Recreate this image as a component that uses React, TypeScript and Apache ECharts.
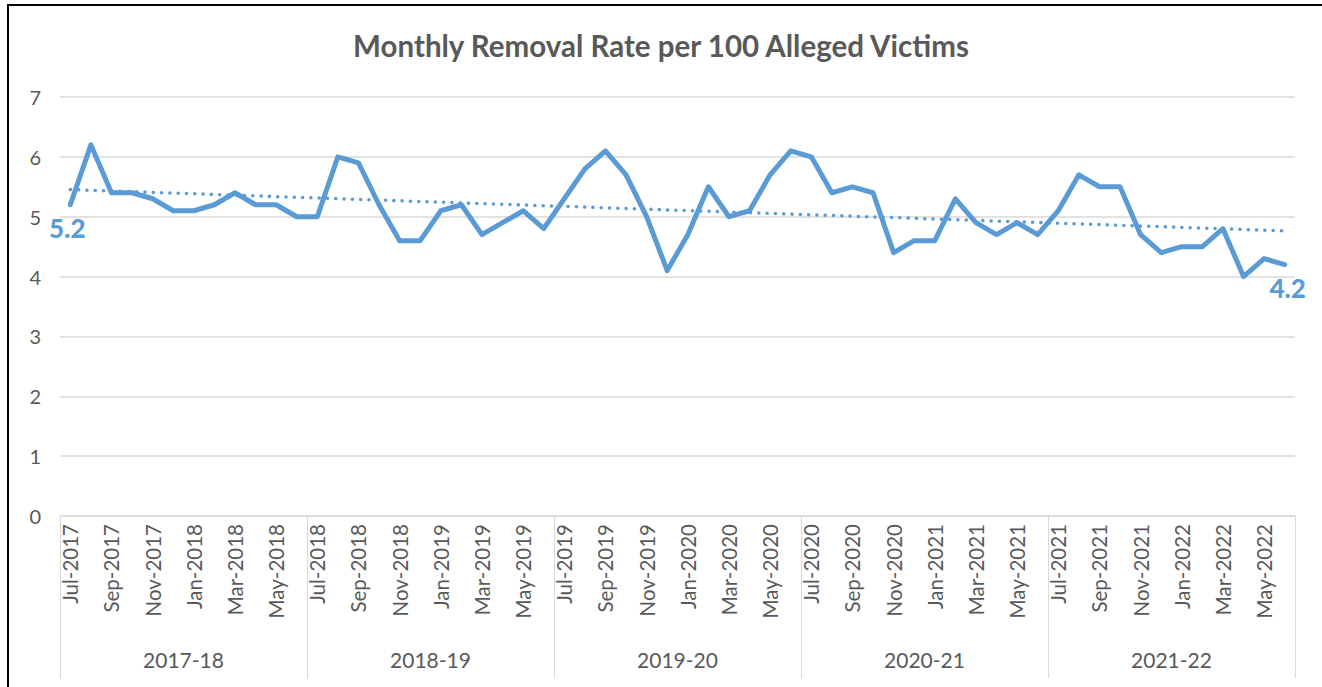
import React, { useEffect, useRef } from "react";
import * as echarts from "echarts";

const months: string[] = [
  "Jul-2017","Aug-2017","Sep-2017","Oct-2017","Nov-2017","Dec-2017","Jan-2018","Feb-2018","Mar-2018","Apr-2018","May-2018","Jun-2018",
  "Jul-2018","Aug-2018","Sep-2018","Oct-2018","Nov-2018","Dec-2018","Jan-2019","Feb-2019","Mar-2019","Apr-2019","May-2019","Jun-2019",
  "Jul-2019","Aug-2019","Sep-2019","Oct-2019","Nov-2019","Dec-2019","Jan-2020","Feb-2020","Mar-2020","Apr-2020","May-2020","Jun-2020",
  "Jul-2020","Aug-2020","Sep-2020","Oct-2020","Nov-2020","Dec-2020","Jan-2021","Feb-2021","Mar-2021","Apr-2021","May-2021","Jun-2021",
  "Jul-2021","Aug-2021","Sep-2021","Oct-2021","Nov-2021","Dec-2021","Jan-2022","Feb-2022","Mar-2022","Apr-2022","May-2022","Jun-2022",
];

const rates: number[] = [
  5.2, 6.2, 5.4, 5.4, 5.3, 5.1, 5.1, 5.2, 5.4, 5.2, 5.2, 5.0,
  5.0, 6.0, 5.9, 5.2, 4.6, 4.6, 5.1, 5.2, 4.7, 4.9, 5.1, 4.8,
  5.3, 5.8, 6.1, 5.7, 5.0, 4.1, 4.7, 5.5, 5.0, 5.1, 5.7, 6.1,
  6.0, 5.4, 5.5, 5.4, 4.4, 4.6, 4.6, 5.3, 4.9, 4.7, 4.9, 4.7,
  5.1, 5.7, 5.5, 5.5, 4.7, 4.4, 4.5, 4.5, 4.8, 4.0, 4.3, 4.2,
];

const fiscalYears: string[] = ["2017-18", "2018-19", "2019-20", "2020-21", "2021-22"];

const yTicks = { min: 0, max: 7, interval: 1 };

const BLUE = "#5B9BD5";
const GRAY = "#595959";
const GRID = "#d9d9d9";
const FONT = "Lato, 'Noto Sans', sans-serif";

function linearTrend(values: number[]): number[] {
  const n = values.length;
  let sx = 0, sy = 0, sxy = 0, sxx = 0;
  values.forEach((v, i) => { sx += i; sy += v; sxy += i * v; sxx += i * i; });
  const slope = (n * sxy - sx * sy) / (n * sxx - sx * sx);
  const icpt = (sy - slope * sx) / n;
  return values.map((_, i) => +(icpt + slope * i).toFixed(4));
}

export default function App() {
  const ref = useRef<HTMLDivElement>(null);
  useEffect(() => {
    if (!ref.current) return;
    const chart = echarts.init(ref.current, null, { renderer: "svg" });
    const last = rates.length - 1;
    const lineData = rates.map((v, i) => {
      if (i === 0) {
        return { value: v, label: { show: true, position: "bottom", offset: [-3, 5] } };
      }
      if (i === last) {
        return { value: v, label: { show: true, position: "bottom", offset: [3, 5] } };
      }
      return v;
    });
    chart.setOption({
      animation: false,
      textStyle: { fontFamily: FONT },
      title: {
        text: "Monthly Removal Rate per 100 Alleged Victims",
        left: "center",
        top: 25,
        textStyle: { fontFamily: FONT, fontWeight: "bold", fontSize: 29.5, color: GRAY },
      },
      grid: { left: 60, right: 27, top: 97, bottom: 171, containLabel: false },
      xAxis: [
        {
          type: "category",
          data: months,
          boundaryGap: true,
          axisLine: { show: true, lineStyle: { color: GRID, width: 1 } },
          axisTick: { show: false },
          axisLabel: {
            interval: 1,
            rotate: 90,
            margin: 8,
            color: GRAY,
            fontSize: 20.5,
            fontFamily: FONT,
          },
          splitLine: { show: false },
        },
        {
          type: "category",
          data: fiscalYears,
          position: "bottom",
          boundaryGap: true,
          axisLine: { show: false },
          axisTick: { show: true, length: 162, lineStyle: { color: GRID, width: 1 } },
          axisLabel: { margin: 133, color: GRAY, fontSize: 21, fontFamily: FONT },
          splitLine: { show: false },
        },
      ],
      yAxis: {
        type: "value",
        min: yTicks.min,
        max: yTicks.max,
        interval: yTicks.interval,
        axisLine: { show: false },
        axisTick: { show: false },
        axisLabel: { color: GRAY, fontSize: 20, margin: 19, fontFamily: FONT },
        splitLine: { show: true, lineStyle: { color: GRID, width: 1.5 } },
      },
      series: [
        {
          name: "Rate",
          type: "line",
          xAxisIndex: 0,
          data: lineData,
          symbol: "circle",
          symbolSize: 0,
          showAllSymbol: true,
          lineStyle: { color: BLUE, width: 5, cap: "round", join: "round" },
          itemStyle: { color: BLUE },
          label: { show: false, color: BLUE, fontWeight: 900, fontSize: 26, fontFamily: FONT },
          z: 3,
        },
        {
          name: "Trend",
          type: "line",
          xAxisIndex: 0,
          data: linearTrend(rates),
          symbol: "none",
          lineStyle: { color: BLUE, width: 3.5, type: [0.1, 8.2], cap: "round" },
          z: 2,
        },
      ],
    });
    return () => chart.dispose();
  }, []);
  return (
    <div style={{ position: "fixed", left: 0, top: 0, width: 1322, height: 687, background: "#fff" }}>
      <div
        style={{
          position: "absolute",
          left: 7,
          top: 4,
          right: 0,
          bottom: 0,
          borderLeft: "2px solid #000",
          borderTop: "2px solid #000",
        }}
      />
      <div ref={ref} style={{ position: "absolute", left: 0, top: 0, width: 1322, height: 687 }} />
    </div>
  );
}
